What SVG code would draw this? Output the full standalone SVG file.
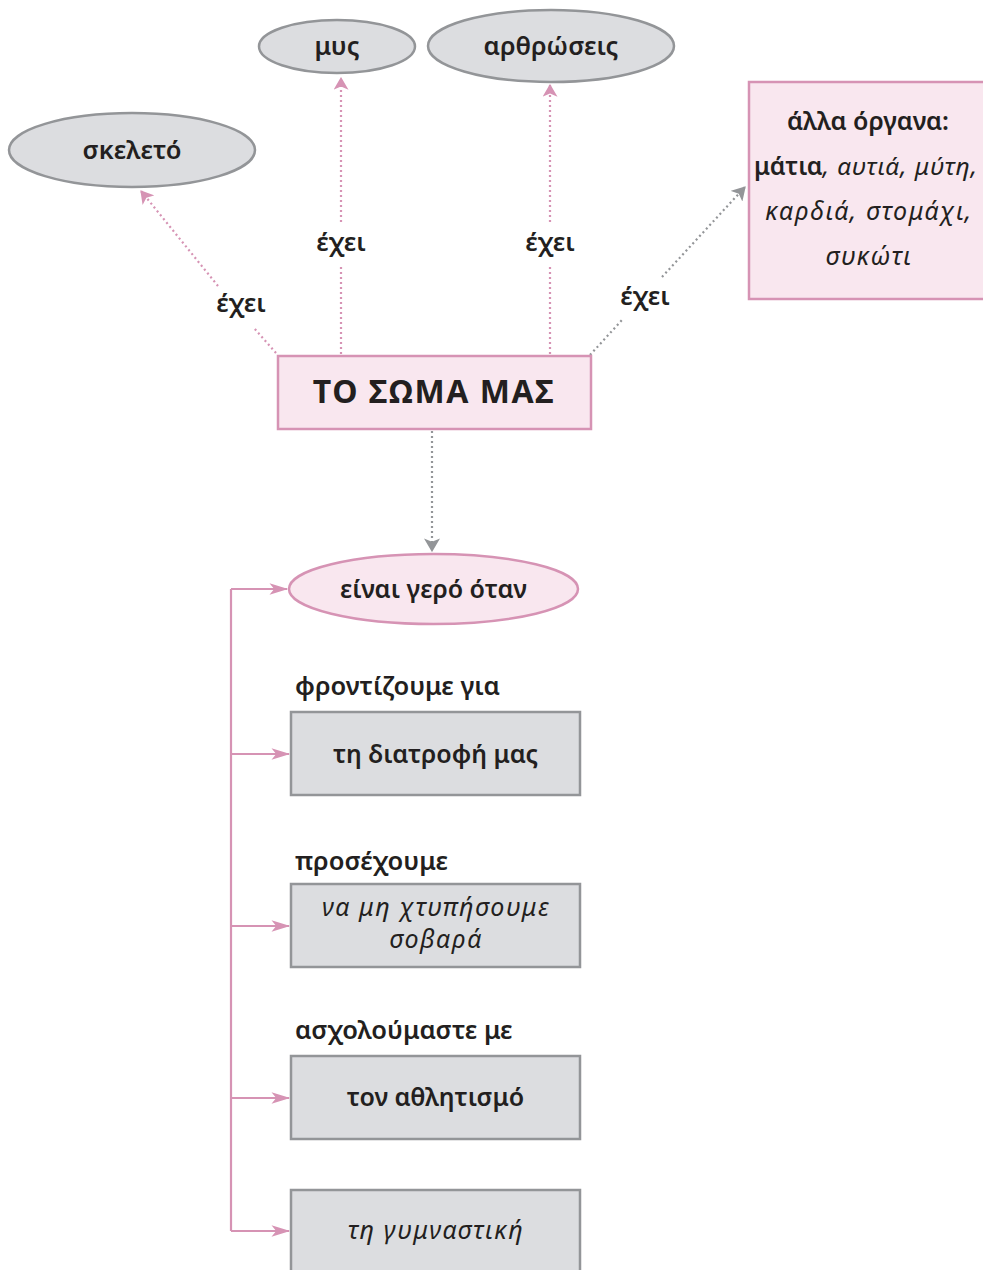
<svg xmlns="http://www.w3.org/2000/svg" width="983" height="1270" viewBox="0 0 983 1270">
<style>
.t{font-family:"Noto Sans","Open Sans","DejaVu Sans",sans-serif;fill:#231f20;text-anchor:middle}
.b{font-weight:600}
.i{font-style:italic;font-weight:400;letter-spacing:1.6px}
.g{fill:#dcdde0;stroke:#939598;stroke-width:2.5}
.p{fill:#f9e7ef;stroke:#d693b4;stroke-width:2.5}
.pd{fill:none;stroke:#d693b4;stroke-width:2.2;stroke-dasharray:2 3}
.gd{fill:none;stroke:#939598;stroke-width:2.2;stroke-dasharray:2 3}
.ps{fill:none;stroke:#d693b4;stroke-width:2.2}
</style>
<defs>
<marker id="ap" viewBox="0 0 12 14" refX="11" refY="7" markerWidth="13" markerHeight="15" markerUnits="userSpaceOnUse" orient="auto"><path d="M0,0 L12,7 L0,14 L3,7 Z" fill="#d693b4"/></marker>
<marker id="ag" viewBox="0 0 12 14" refX="11" refY="7" markerWidth="14" markerHeight="16" markerUnits="userSpaceOnUse" orient="auto"><path d="M0,0 L12,7 L0,14 L3,7 Z" fill="#939598"/></marker>
<marker id="aps" viewBox="0 0 16 12" refX="15" refY="6" markerWidth="20" markerHeight="14" markerUnits="userSpaceOnUse" orient="auto"><path d="M0,1 L16,6 L0,11 L4,6 Z" fill="#d693b4"/></marker>
</defs>

<g id="connectors">
<path class="pd" d="M276,353 L254,328"/>
<path class="pd" d="M218,286 L141,191" marker-end="url(#ap)"/>
<path class="pd" d="M341,354 L341,266"/>
<path class="pd" d="M341,222 L341,78" marker-end="url(#ap)"/>
<path class="pd" d="M550,354 L550,266"/>
<path class="pd" d="M550,222 L550,85" marker-end="url(#ap)"/>
<path class="gd" d="M590,355 L622,320"/>
<path class="gd" d="M662,277 L745,187" marker-end="url(#ag)"/>
<path class="gd" d="M432,431 L432,551" marker-end="url(#ag)"/>
<path class="ps" d="M231,589 L231,1231"/>
<path class="ps" d="M231,589 L287,589" marker-end="url(#aps)"/>
<path class="ps" d="M231,754 L289,754" marker-end="url(#aps)"/>
<path class="ps" d="M231,926 L289,926" marker-end="url(#aps)"/>
<path class="ps" d="M231,1098 L289,1098" marker-end="url(#aps)"/>
<path class="ps" d="M231,1231 L289,1231" marker-end="url(#aps)"/>
<text class="t b" x="241" y="312" font-size="25.5">έχει</text>
<text class="t b" x="341" y="251" font-size="25.5">έχει</text>
<text class="t b" x="550" y="251" font-size="25.5">έχει</text>
<text class="t b" x="645" y="305" font-size="25.5">έχει</text>
</g>

<g id="skeleto">
<ellipse class="g" cx="132" cy="150" rx="123" ry="37"/>
<text class="t b" x="132" y="159" font-size="25.5">σκελετό</text>
</g>
<g id="mys">
<ellipse class="g" cx="337" cy="46.5" rx="78" ry="26.5"/>
<text class="t b" x="337" y="55" font-size="25.5">μυς</text>
</g>
<g id="arthroseis">
<ellipse class="g" cx="551" cy="46" rx="123" ry="36"/>
<text class="t b" x="551" y="55" font-size="25.5">αρθρώσεις</text>
</g>
<g id="organa">
<rect class="p" x="749" y="82" width="250" height="217"/>
<text class="t b" x="868" y="130" font-size="25">άλλα όργανα:</text>
<text class="t" x="866" y="175" font-size="24.5"><tspan class="b">μάτια</tspan><tspan class="i" style="letter-spacing:1px">, αυτιά, μύτη,</tspan></text>
<text class="t i" x="869" y="220" font-size="25">καρδιά, στομάχι,</text>
<text class="t i" x="869" y="265" font-size="25">συκώτι</text>
</g>
<g id="soma">
<rect class="p" x="278" y="356" width="313" height="73"/>
<text class="t" x="434" y="403" font-size="32" font-weight="700" font-family="Roboto,sans-serif" letter-spacing="1.5">ΤΟ ΣΩΜΑ ΜΑΣ</text>
</g>
<g id="gero">
<ellipse class="p" cx="433.5" cy="589" rx="144.5" ry="35"/>
<text class="t b" x="433.5" y="598" font-size="25">είναι γερό όταν</text>
</g>
<g id="diatrofi">
<text class="t b" x="295" y="695" font-size="25.5" style="text-anchor:start">φροντίζουμε για</text>
<rect class="g" x="291" y="712" width="289" height="83"/>
<text class="t b" x="435.5" y="763" font-size="25">τη διατροφή μας</text>
</g>
<g id="xtypisoume">
<text class="t b" x="295" y="870" font-size="25.5" style="text-anchor:start">προσέχουμε</text>
<rect class="g" x="291" y="884" width="289" height="83"/>
<text class="t i" x="436" y="916" font-size="25">να μη χτυπήσουμε</text>
<text class="t i" x="436" y="948" font-size="25">σοβαρά</text>
</g>
<g id="athlitismo">
<text class="t b" x="295" y="1039" font-size="25.5" style="text-anchor:start">ασχολούμαστε με</text>
<rect class="g" x="291" y="1056" width="289" height="83"/>
<text class="t b" x="435.5" y="1106" font-size="25">τον αθλητισμό</text>
</g>
<g id="gymnastiki">
<rect class="g" x="291" y="1190" width="289" height="90"/>
<text class="t i" x="436" y="1239" font-size="25">τη γυμναστική</text>
</g>
</svg>
